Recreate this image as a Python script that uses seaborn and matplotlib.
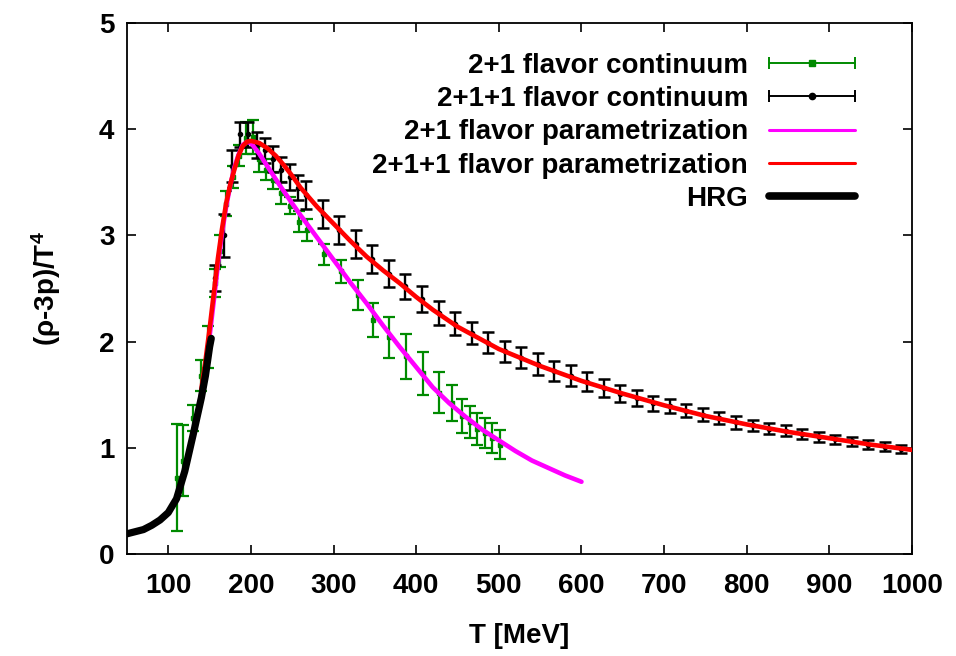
import matplotlib
matplotlib.use("Agg")
import numpy as np
import pandas as pd
import matplotlib.pyplot as plt
import seaborn as sns
from matplotlib.lines import Line2D
from matplotlib.legend_handler import HandlerLine2D

# ---- data -----------------------------------------------------------------
# 2+1 flavor continuum (lattice)
T_21 = [110, 118, 130, 140, 148, 156, 163, 170, 178, 186, 194, 202, 210, 218,
        227, 237, 247, 258, 268, 289, 309, 330, 348, 367, 388, 408, 428, 443,
        455, 465, 474, 483, 492, 502]
I_21 = [0.72, 0.88, 1.28, 1.68, 1.95, 2.55, 2.85, 3.30, 3.55, 3.75, 3.92, 3.93,
        3.72, 3.62, 3.52, 3.40, 3.28, 3.13, 3.05, 2.82, 2.66, 2.44, 2.20, 2.04,
        1.86, 1.70, 1.52, 1.42, 1.30, 1.24, 1.18, 1.14, 1.09, 1.03]
E_21 = [0.50, 0.33, 0.12, 0.15, 0.20, 0.13, 0.15, 0.12, 0.10, 0.10, 0.15, 0.16,
        0.12, 0.10, 0.08, 0.10, 0.08, 0.10, 0.10, 0.10, 0.11, 0.14, 0.16, 0.19,
        0.21, 0.20, 0.19, 0.17, 0.16, 0.15, 0.15, 0.14, 0.14, 0.14]

# 2+1+1 flavor continuum (lattice)
T_211 = [157, 167, 177, 187, 197, 207, 217, 227, 237, 247, 257, 267, 287, 307,
         327, 347, 367, 387, 407, 427, 447, 467, 487, 507, 527, 547, 567, 587,
         607, 627, 647, 667, 687, 707, 727, 747, 767, 787, 807, 827, 847, 867,
         887, 907, 927, 947, 967, 987]
I_211 = [2.60, 3.00, 3.65, 3.95, 3.95, 3.85, 3.80, 3.72, 3.62, 3.55, 3.45, 3.38,
         3.20, 3.05, 2.92, 2.78, 2.64, 2.52, 2.40, 2.27, 2.17, 2.08, 1.99, 1.91,
         1.85, 1.79, 1.72, 1.68, 1.62, 1.56, 1.51, 1.47, 1.42, 1.39, 1.35, 1.31,
         1.28, 1.24, 1.21, 1.18, 1.16, 1.13, 1.10, 1.08, 1.06, 1.03, 1.01, 0.99]
E_211 = [0.12, 0.20, 0.15, 0.12, 0.12, 0.12, 0.12, 0.12, 0.12, 0.12, 0.12, 0.13,
         0.13, 0.13, 0.13, 0.13, 0.13, 0.12, 0.12, 0.11, 0.11, 0.10, 0.10, 0.10,
         0.10, 0.10, 0.095, 0.095, 0.09, 0.085, 0.08, 0.075, 0.07, 0.065, 0.06,
         0.06, 0.06, 0.06, 0.055, 0.05, 0.05, 0.045, 0.045, 0.045, 0.04, 0.04,
         0.04, 0.04]

# 2+1 flavor parametrization
T_p21 = [130, 135, 140, 145, 150, 155, 160, 165, 170, 175, 180, 185, 190, 195,
         200, 210, 220, 235, 250, 260, 280, 300, 320, 340, 360, 380, 400, 420,
         440, 460, 480, 500, 520, 540, 560, 580, 600]
I_p21 = [1.12, 1.30, 1.52, 1.78, 2.05, 2.38, 2.72, 3.02, 3.27, 3.47, 3.64, 3.76,
         3.85, 3.88, 3.87, 3.77, 3.65, 3.47, 3.30, 3.19, 2.98, 2.77, 2.56, 2.36,
         2.15, 1.95, 1.76, 1.57, 1.42, 1.29, 1.17, 1.07, 0.97, 0.88, 0.81, 0.74,
         0.68]

# 2+1+1 flavor parametrization
T_p211 = [140, 145, 150, 155, 160, 165, 170, 175, 180, 185, 190, 195, 200, 210,
          220, 230, 240, 250, 260, 280, 300, 320, 340, 360, 380, 400, 420, 450,
          500, 550, 600, 650, 700, 750, 800, 850, 900, 950, 1000]
I_p211 = [1.55, 1.82, 2.12, 2.45, 2.78, 3.06, 3.30, 3.48, 3.62, 3.75, 3.84, 3.88,
          3.89, 3.87, 3.82, 3.75, 3.66, 3.56, 3.45, 3.27, 3.11, 2.95, 2.80, 2.67,
          2.55, 2.42, 2.30, 2.14, 1.93, 1.77, 1.63, 1.51, 1.40, 1.30, 1.22, 1.15,
          1.09, 1.03, 0.98]

# hadron resonance gas
T_hrg = [50, 60, 70, 80, 90, 100, 110, 120, 130, 140, 145, 150, 152]
I_hrg = [0.19, 0.21, 0.23, 0.27, 0.32, 0.39, 0.52, 0.78, 1.12, 1.47, 1.68, 1.95,
         2.03]

x_ticks = [100, 200, 300, 400, 500, 600, 700, 800, 900, 1000]
y_ticks = [0, 1, 2, 3, 4, 5]

GREEN = "#008a00"
MAGENTA = "#ff00ff"
RED = "#ff0000"
BLACK = "#000000"

# ---- style ----------------------------------------------------------------
sns.set_style("ticks")
plt.rcParams["font.family"] = ["Liberation Sans", "DejaVu Sans"]
plt.rcParams["font.weight"] = "bold"
plt.rcParams["mathtext.fontset"] = "custom"
plt.rcParams["mathtext.rm"] = "Liberation Sans:bold"
plt.rcParams["mathtext.it"] = "Liberation Sans:bold"
plt.rcParams["mathtext.bf"] = "Liberation Sans:bold"
plt.rcParams["axes.linewidth"] = 1.3
for key in ["text.color", "axes.labelcolor", "axes.edgecolor",
            "xtick.color", "ytick.color"]:
    plt.rcParams[key] = "black"

fig = plt.figure(figsize=(9.56, 6.56), dpi=100)
ax = fig.add_axes([0.1328, 0.1555, 0.8212, 0.8095])

# lattice data with error bars
ax.errorbar(T_21, I_21, yerr=E_21, fmt="s", color=GREEN, ms=3.5,
            elinewidth=1.6, capsize=4, capthick=1.6, zorder=2)
ax.errorbar(T_211, I_211, yerr=E_211, fmt="o", color=BLACK, ms=3,
            elinewidth=1.7, capsize=4, capthick=1.8, zorder=3)

# parametrizations and HRG
df_p21 = pd.DataFrame({"T": T_p21, "I": I_p21})
df_p211 = pd.DataFrame({"T": T_p211, "I": I_p211})
df_hrg = pd.DataFrame({"T": T_hrg, "I": I_hrg})
sns.lineplot(data=df_p21, x="T", y="I", ax=ax, color=MAGENTA, lw=3.3,
             estimator=None, sort=False, legend=False, zorder=4)
sns.lineplot(data=df_p211, x="T", y="I", ax=ax, color=RED, lw=3.3,
             estimator=None, sort=False, legend=False, zorder=5)
sns.lineplot(data=df_hrg, x="T", y="I", ax=ax, color=BLACK, lw=5.2,
             estimator=None, sort=False, legend=False, zorder=6)

ax.set_xlim(50, 1000)
ax.set_ylim(0, 5)
ax.set_xticks(x_ticks)
ax.set_yticks(y_ticks)
ax.tick_params(direction="in", length=6.5, width=1.2, top=True, right=True,
               labelsize=20, colors="black")
ax.tick_params(axis="x", pad=14)
ax.tick_params(axis="y", pad=9)
for lab in ax.get_xticklabels() + ax.get_yticklabels():
    lab.set_fontweight("bold")

ax.set_xlabel("T [MeV]", fontsize=20, fontweight="bold", labelpad=17)
ax.set_ylabel(r"(ρ-3p)/T$^4$", fontsize=20, fontweight="bold", labelpad=26)

# legend: text on the left, gnuplot-style error-bar samples on the right
cap_g = Line2D([], [], color=GREEN, lw=1.4, marker="|", ms=9, mew=1.4)
dot_g = Line2D([], [], color=GREEN, ls="none", marker="s", ms=5)
cap_b = Line2D([], [], color=BLACK, lw=1.4, marker="|", ms=9, mew=1.4)
dot_b = Line2D([], [], color=BLACK, ls="none", marker="o", ms=4.5)
h_p21 = Line2D([], [], color=MAGENTA, lw=2.2)
h_p211 = Line2D([], [], color=RED, lw=2.2)
h_hrg = Line2D([], [], color=BLACK, lw=5.5)

handles = [(cap_g, dot_g), (cap_b, dot_b), h_p21, h_p211, h_hrg]
labels = ["2+1 flavor continuum", "2+1+1 flavor continuum",
          "2+1 flavor parametrization", "2+1+1 flavor parametrization", "HRG"]
hmap = {cap_g: HandlerLine2D(numpoints=2, marker_pad=0.0),
        cap_b: HandlerLine2D(numpoints=2, marker_pad=0.0),
        dot_g: HandlerLine2D(numpoints=1),
        dot_b: HandlerLine2D(numpoints=1)}
leg = ax.legend(handles, labels, handler_map=hmap, loc="upper right",
                bbox_to_anchor=(855 / 956, 1 - 53 / 656),
                bbox_transform=fig.transFigure, frameon=False,
                markerfirst=False, borderpad=0, borderaxespad=0,
                handlelength=3.1, handletextpad=0.75, labelspacing=0.26,
                prop={"family": ["Liberation Sans", "DejaVu Sans"],
                      "weight": "bold", "size": 20})

fig.savefig("out.png", dpi=100)
